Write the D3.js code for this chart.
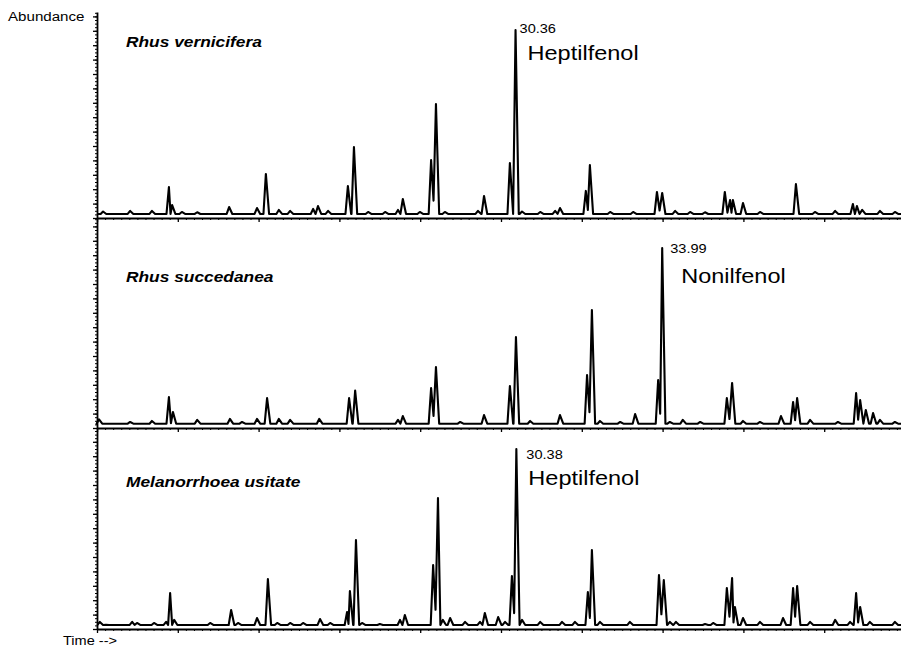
<!DOCTYPE html>
<html><head><meta charset="utf-8">
<script src="https://cdn.jsdelivr.net/npm/d3@7"></script>
<style>
body{margin:0;background:#fff}
svg{display:block}
text{font-family:"Liberation Sans",Arial,Helvetica,sans-serif;fill:#000}
</style>
</head><body>
<svg id="c" width="901" height="649"></svg>
<script>
// ---------------- DATA ----------------
const samples = ["Rhus vernicifera", "Rhus succedanea", "Melanorrhoea usitate"];
const timeDomain = [20, 40];                         // minutes
const timeMajorTicks = d3.range(20, 40.001, 2);
const timeMinorTicks = d3.range(20, 40.001, 0.2);
const yLabel = "Abundance";
const xLabel = "Time -->";
const baselineLevels = [0.28, 0.3, 0.28];            // abundance units (x10^5)

// peaks: [retention time (min), abundance (x10^5)]
const peaksVernicifera = [
  [20.15,0.45],[20.82,0.49],[21.36,0.49],[21.78,2.15],[21.86,0.9],[22.10,0.42],[22.48,0.4],
  [23.27,0.76],[23.96,0.69],[24.18,3.06],[24.50,0.56],[24.78,0.49],[25.35,0.63],[25.47,0.83],
  [25.72,0.49],[26.21,2.22],[26.36,4.93],[26.71,0.42],[27.13,0.42],[27.45,0.56],[27.57,1.32],
  [27.99,0.42],[28.27,4.03],[28.39,7.92],[28.61,0.42],[29.43,0.49],[29.58,1.53],[30.22,3.82],
  [30.36,13.06],[30.52,0.45],[30.97,0.42],[31.34,0.49],[31.46,0.69],[32.10,1.88],[32.20,3.68],
  [32.70,0.42],[33.27,0.42],[33.86,1.81],[33.99,1.74],[34.31,0.49],[34.68,0.42],[35.05,0.4],
  [35.54,1.81],[35.67,1.25],[35.74,1.25],[35.99,1.04],[36.41,0.42],[37.30,2.36],[37.77,0.42],
  [38.27,0.49],[38.71,0.97],[38.81,0.83],[38.94,0.56],[39.38,0.49],[39.75,0.42]
];
const peaksSuccedanea = [
  [20.05,0.6],[20.82,0.42],[21.36,0.49],[21.78,2.15],[21.88,1.11],[22.48,0.56],[23.29,0.63],
  [23.59,0.42],[23.96,0.63],[24.21,2.08],[24.50,0.63],[24.78,0.56],[25.50,0.63],[26.24,2.08],
  [26.39,2.6],[27.45,0.56],[27.57,0.83],[28.27,2.78],[28.39,4.24],[28.99,0.42],[29.58,0.9],
  [30.22,2.92],[30.37,6.32],[30.72,0.49],[31.46,0.9],[32.13,3.68],[32.25,8.19],[32.45,0.49],
  [32.95,0.42],[33.32,0.97],[33.89,3.33],[33.99,12.5],[34.18,0.42],[34.50,0.56],[34.93,0.42],
  [35.59,2.08],[35.72,3.13],[35.99,0.49],[36.41,0.42],[36.93,0.83],[37.23,1.81],[37.33,2.08],
  [37.65,0.56],[38.34,0.42],[38.79,2.43],[38.89,1.94],[39.03,1.25],[39.21,1.04],[39.38,0.56],
  [39.75,0.42]
];
const peaksMelanorrhoea = [
  [20.07,0.49],[20.22,0.3],[20.87,0.49],[20.99,0.42],[21.41,0.42],[21.71,0.49],[21.81,2.5],
  [21.91,0.63],[22.80,0.42],[23.32,1.32],[23.49,0.42],[23.96,0.76],[24.23,3.47],[24.46,0.42],
  [24.78,0.42],[25.10,0.42],[25.52,0.69],[25.77,0.42],[26.19,1.18],[26.26,2.64],[26.41,6.18],
  [26.56,0.42],[27.00,0.35],[27.50,0.63],[27.62,0.97],[28.32,4.44],[28.44,9.10],[28.56,0.63],
  [28.74,0.76],[29.11,0.49],[29.48,0.49],[29.60,1.11],[29.93,0.83],[30.10,0.49],[30.27,3.68],
  [30.38,12.5],[30.52,0.63],[30.97,0.49],[31.51,0.49],[31.83,0.49],[32.15,2.57],[32.25,5.49],
  [32.45,0.49],[33.19,0.49],[33.91,3.75],[34.03,3.40],[34.18,0.49],[34.33,0.49],[35.05,0.35],
  [35.25,0.42],[35.59,2.85],[35.72,3.54],[35.79,1.53],[35.99,0.76],[36.41,0.49],[36.98,0.76],
  [37.23,2.85],[37.33,2.99],[37.65,0.49],[38.27,0.63],[38.64,0.49],[38.79,2.5],[38.89,1.53],
  [39.13,0.49],[39.75,0.49]
];
const peakSets = [peaksVernicifera, peaksSuccedanea, peaksMelanorrhoea];
const labelTimes = [30.36, 33.99, 30.38];
const labelCompounds = ["Heptilfenol", "Nonilfenol", "Heptilfenol"];

// ---------------- LAYOUT / STYLE ----------------
const X0 = 97, X1 = 905;
const panelBox = [{top:12,bottom:218},{top:218,bottom:428},{top:428,bottom:629}];
const PX_PER_UNIT = 14.4;
const SX = 1.12; // horizontal text stretch of the original
const titleBase = [47, 282, 487];
const numOffset = [[4,3],[8,5],[10,10]];
const nameOffset = [[12,30],[19,35],[12,36]];

const svg = d3.select("#c");
const x = d3.scaleLinear().domain(timeDomain).range([X0, X1]);

function addText(g, tx, ty, str, size, extra){
  const t = g.append("text")
    .attr("transform", `translate(${tx},${ty}) scale(${SX},1)`)
    .style("font-size", size + "px")
    .text(str);
  if (extra) extra(t);
  return t;
}

function tracePoints(peaks, base){
  const p = peaks.slice().sort((a,b)=>a[0]-b[0]);
  const WL = 0.06, WR = 0.08;
  const pts = [[timeDomain[0], base]];
  for (let i=0;i<p.length;i++){
    const cur = p[i], prev = p[i-1], next = p[i+1];
    const L = cur[0]-WL, R = cur[0]+WR;
    if (!prev || prev[0]+WR <= L) pts.push([L, base]);
    pts.push([cur[0], Math.max(base, cur[1])]);
    if (!next || next[0]-WL >= R) pts.push([R, base]);
    else pts.push([(cur[0]+next[0])/2, Math.max(base, Math.min(cur[1], next[1])*0.3)]);
  }
  pts.push([timeDomain[1], base]);
  return pts;
}

panelBox.forEach((b, i) => {
  const yMax = (b.bottom - b.top) / PX_PER_UNIT;
  const y = d3.scaleLinear().domain([0, yMax]).range([b.bottom, b.top]);
  const g = svg.append("g");

  // y axis: minor then major ticks
  g.append("g").attr("transform", `translate(${X0},0)`)
    .call(d3.axisLeft(y).tickValues(d3.range(0, yMax, 0.25)).tickSize(2).tickSizeOuter(0).tickFormat(""))
    .call(a => a.selectAll("line").attr("stroke-width", 1))
    .call(a => a.select(".domain").attr("stroke-width", 1.8));
  g.append("g").attr("transform", `translate(${X0},0)`)
    .call(d3.axisLeft(y).tickValues(d3.range(0, yMax, 1)).tickSize(4).tickSizeOuter(0).tickFormat(""))
    .call(a => a.selectAll("line").attr("stroke-width", 1.3))
    .call(a => a.select(".domain").remove());

  // x axis
  g.append("g").attr("transform", `translate(0,${b.bottom})`)
    .call(d3.axisBottom(x).tickValues(timeMinorTicks).tickSize(2).tickSizeOuter(0).tickFormat(""))
    .call(a => a.selectAll("line").attr("stroke-width", 1))
    .call(a => a.select(".domain").attr("stroke-width", 1.8));
  g.append("g").attr("transform", `translate(0,${b.bottom})`)
    .call(d3.axisBottom(x).tickValues(timeMajorTicks).tickSize(4).tickSizeOuter(0).tickFormat(""))
    .call(a => a.selectAll("line").attr("stroke-width", 1.3))
    .call(a => a.select(".domain").remove());

  // trace
  const line = d3.line().x(d => x(d[0])).y(d => y(d[1]));
  g.append("path")
    .datum(tracePoints(peakSets[i], baselineLevels[i]))
    .attr("d", line)
    .attr("fill", "none")
    .attr("stroke", "#000")
    .attr("stroke-width", 2.1)
    .attr("stroke-linejoin", "round");

  // sample title
  addText(g, 126, titleBase[i], samples[i], 15.5, t => t.style("font-weight","bold").style("font-style","italic"));

  // peak labels
  const lt = labelTimes[i];
  const apex = peakSets[i].reduce((m, d) => d[1] > m[1] ? d : m);
  const ax = x(lt), ay = y(apex[1]);
  addText(g, ax + numOffset[i][0], ay + numOffset[i][1], lt.toFixed(2), 13);
  addText(g, ax + nameOffset[i][0], ay + nameOffset[i][1], labelCompounds[i], 21);
});

addText(svg, 8, 21, yLabel, 13.5);
addText(svg, 63, 645, xLabel, 13);
</script>
</body></html>
